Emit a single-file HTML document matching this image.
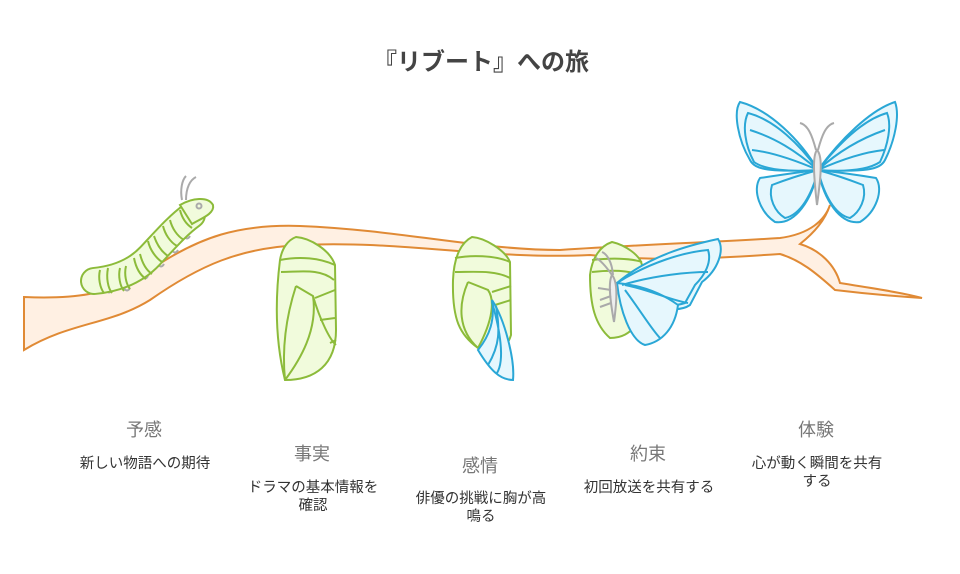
<!DOCTYPE html>
<html><head><meta charset="utf-8"><style>
body{margin:0;background:#fff;width:960px;height:574px;overflow:hidden}
svg{position:absolute;left:0;top:0}
.t{font-family:"Liberation Sans","Noto Sans CJK JP",sans-serif}
</style></head><body>
<svg width="960" height="574" viewBox="0 0 960 574" class="t">
<text x="481" y="70" text-anchor="middle" font-size="24" font-weight="bold" fill="#444">『リブート』への旅</text>
<!-- branch -->
<path d="M24,297 C70,299 110,296 150,270 C200,236 240,224 300,226 C400,230 480,250 560,250 C650,244 700,243 780,238 C810,234 825,220 830,205 C825,220 815,232 800,244 C820,250 835,265 840,283 C870,288 900,292 922,298 C890,296 860,293 835,290 C815,272 800,260 780,254 C720,258 660,262 590,255 C490,260 400,240 300,245 C240,248 200,265 150,300 C110,325 70,322 24,350 Z" fill="#fff0e3" stroke="#e08a35" stroke-width="2"/>
<!-- caterpillar -->
<g fill="none" stroke="#aaa" stroke-width="2"><path d="M182,200 C180,190 182,180 186,176"/><path d="M186,200 C186,188 190,180 196,177"/>
<path d="M106,290 q3,5 6,0"/><path d="M124,288 q3,5 6,0"/><path d="M142,276 q3,5 6,0"/><path d="M158,264 q3,5 6,0"/><path d="M172,250 q3,5 6,0"/><path d="M184,236 q3,5 6,0"/></g>
<path d="M94,281 C115,279 135,272 150,256 C165,240 178,225 192,215" fill="none" stroke="#8cbb3a" stroke-width="28" stroke-linecap="round"/>
<path d="M94,281 C115,279 135,272 150,256 C165,240 178,225 192,215" fill="none" stroke="#f1fbdc" stroke-width="24" stroke-linecap="round"/>
<path d="M180,205 C192,198 208,196 213,205 C215,214 200,219 192,224 Z" fill="#f1fbdc" stroke="#8cbb3a" stroke-width="2"/>
<g fill="none" stroke="#8cbb3a" stroke-width="2">
<path d="M100,270 C98,278 100,288 104,293"/><path d="M108,268 C106,278 108,288 112,293"/>
<path d="M120,268 C118,276 120,286 124,291"/><path d="M126,266 C124,274 126,284 130,289"/>
<path d="M134,258 C136,268 140,275 146,279"/><path d="M140,254 C142,262 146,270 152,274"/>
<path d="M148,241 C150,250 156,258 162,262"/><path d="M154,236 C157,245 162,252 168,256"/>
<path d="M163,226 C165,234 170,242 177,246"/><path d="M170,220 C172,228 177,236 184,240"/>
<path d="M180,210 C182,218 186,224 192,228"/>
</g>
<circle cx="199" cy="206" r="2.5" fill="none" stroke="#aaa" stroke-width="2"/>
<!-- pupa 1 -->
<g fill="#f1fbdc" stroke="#8cbb3a" stroke-width="2">
<path d="M296,237 C310,238 330,250 335,265 L336,330 C336,365 315,380 285,380 C275,340 275,300 280,260 C282,248 288,240 296,237 Z"/>
<path fill="none" d="M280,260 C300,256 320,258 335,265 M281,272 C300,272 320,268 334,280 M296,286 L313,296 C320,320 330,340 336,345 M296,286 C285,320 282,350 285,380 M313,296 C318,330 300,360 285,380 M315,298 L335,290 M320,320 L335,318 M330,343 L336,340"/>
</g>
<!-- pupa 2 -->
<g fill="#f1fbdc" stroke="#8cbb3a" stroke-width="2">
<path d="M472,237 C485,238 505,250 510,262 L511,335 C505,355 495,345 478,348 C460,335 452,320 453,280 C454,255 462,242 472,237 Z"/>
<path fill="none" d="M455,258 C470,255 495,255 510,262 M455,272 C475,272 495,270 510,278 M468,282 L488,290 C495,300 493,320 478,348 M468,282 C458,305 458,330 478,348 M492,292 L511,286 M495,305 L511,300"/>
</g>
<g fill="#e6f7fd" stroke="#2aa7d6" stroke-width="2"><path d="M492,300 C505,320 515,360 513,380 C500,380 490,370 478,350 C490,335 495,320 492,300 Z"/><path fill="none" d="M492,302 C500,330 505,360 497,373 M496,306 C500,330 500,345 488,365"/></g>
<!-- pupa 3 with emerging butterfly -->
<g fill="#f1fbdc" stroke="#8cbb3a" stroke-width="2">
<path d="M612,242 C625,245 640,255 642,265 L640,320 C630,335 620,338 610,338 C595,325 590,305 590,275 C592,258 600,246 612,242 Z"/>
<path fill="none" d="M592,260 C610,258 630,258 642,262 M592,272 C610,270 630,270 642,276"/>
</g>
<g fill="#e6f7fd" stroke="#2aa7d6" stroke-width="2">
<path d="M617,283 C650,255 690,245 718,239 C725,250 718,270 702,282 L690,305 C680,312 660,310 640,300 Z"/>
<path d="M617,283 C650,262 685,252 708,250 C712,262 705,275 695,285 L685,303 C670,308 650,305 630,295 Z"/>
<path d="M617,283 C620,310 630,340 645,345 C662,342 675,328 678,305 C660,292 640,285 617,283 Z"/>
<path fill="none" d="M622,285 C655,275 690,272 708,272 M625,285 C650,290 670,300 688,303 M625,290 C640,310 652,330 660,338"/>
</g>
<g fill="#eee" stroke="#aaa" stroke-width="2"><path d="M612,275 C618,282 617,300 614,322 C610,300 608,282 612,275 Z"/><path fill="none" d="M612,275 C605,265 600,260 596,258 M613,275 C612,262 607,254 602,252 M611,290 L598,288 M611,296 L600,300 M611,303 L600,307"/></g>
<!-- butterfly -->
<g fill="#e6f7fd" stroke="#2aa7d6" stroke-width="2">
<path d="M818,170 C800,140 770,110 740,102 C733,112 738,140 750,160 C755,170 770,172 818,170 Z"/>
<path d="M818,170 C800,145 775,120 748,113 C742,125 745,145 754,162 C765,170 790,172 818,170 Z"/>
<path d="M818,170 C840,140 870,110 895,102 C900,115 895,140 885,160 C880,170 865,172 818,170 Z"/>
<path d="M818,170 C838,145 862,120 887,113 C892,125 888,145 880,162 C868,170 845,172 818,170 Z"/>
<path d="M818,170 C800,172 780,175 760,178 C752,190 760,212 775,222 C795,225 812,200 818,170 Z"/>
<path d="M818,170 C800,175 785,180 772,185 C768,198 775,212 785,218 C800,215 812,195 818,170 Z"/>
<path d="M818,170 C836,172 858,175 876,178 C884,190 876,212 860,222 C840,225 824,200 818,170 Z"/>
<path d="M818,170 C836,175 850,180 863,185 C867,198 860,212 850,218 C835,215 824,195 818,170 Z"/>
<path fill="none" d="M818,170 C795,150 775,138 750,130 M818,170 C790,158 770,152 752,150 M818,170 C840,150 862,138 885,130 M818,170 C845,158 865,152 884,150"/>
</g>
<g fill="#eee" stroke="#aaa" stroke-width="2"><path d="M817,150 C822,155 822,170 817,205 C813,170 813,155 817,150 Z"/><path fill="none" d="M816,150 C812,135 808,125 800,123 M818,150 C822,135 826,125 834,123"/></g>
<!-- labels -->
<g text-anchor="middle">
<text x="144" y="436" font-size="18" fill="#777">予感</text>
<text x="145" y="468" font-size="14.5" fill="#333">新しい物語への期待</text>
<text x="312" y="460" font-size="18" fill="#777">事実</text>
<text x="313" y="492" font-size="14.5" fill="#333">ドラマの基本情報を</text>
<text x="313" y="510" font-size="14.5" fill="#333">確認</text>
<text x="480" y="472" font-size="18" fill="#777">感情</text>
<text x="481" y="503" font-size="14.5" fill="#333">俳優の挑戦に胸が高</text>
<text x="481" y="521" font-size="14.5" fill="#333">鳴る</text>
<text x="648" y="460" font-size="18" fill="#777">約束</text>
<text x="649" y="492" font-size="14.5" fill="#333">初回放送を共有する</text>
<text x="816" y="436" font-size="18" fill="#777">体験</text>
<text x="817" y="468" font-size="14.5" fill="#333">心が動く瞬間を共有</text>
<text x="817" y="486" font-size="14.5" fill="#333">する</text>
</g>
</svg>
</body></html>
